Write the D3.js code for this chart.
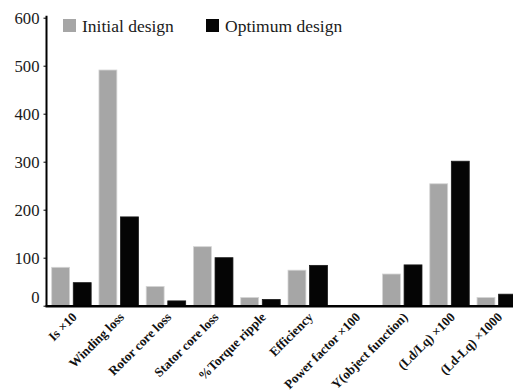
<!DOCTYPE html>
<html>
<head>
<meta charset="utf-8">
<script src="https://cdn.jsdelivr.net/npm/d3@7/dist/d3.min.js"></script>
<style>
  html, body { margin: 0; padding: 0; background: #fff; }
  svg { display: block; }
  svg text { font-family: "Liberation Serif", "Times New Roman", serif; }
</style>
</head>
<body>
<svg id="chart" width="513" height="391"></svg>
<script>
// Comparison of the initial and optimum designs across performance measures
const categories = [
  "Is \u00d710", "Winding loss", "Rotor core loss", "Stator core loss",
  "%Torque ripple", "Efficiency", "Power factor \u00d7100",
  "Y(object function)", "(Ld/Lq) \u00d7100", "(Ld-Lq) \u00d71000"
];
const seriesNames = ["Initial design", "Optimum design"];
const initialDesign = [80, 491, 40, 123, 17, 74, 0, 66, 254, 17];
const optimumDesign = [48, 185, 10, 100, 13, 84, 0, 85, 301, 24];
const yTicks = [0, 100, 200, 300, 400, 500, 600];
const colors = ["#a6a6a6", "#050505"];

const svg = d3.select("#chart");

const y = d3.scaleLinear().domain([0, 600]).range([305.7, 17.7]);
const x0 = d3.scaleBand().domain(categories)
  .range([47.8, 520.4]).paddingInner(0.165).paddingOuter(0.0825);
const x1 = d3.scaleBand().domain(seriesNames)
  .range([0, x0.bandwidth()]).paddingInner(0.17);

const rows = categories.map((c, i) => ({
  cat: c,
  vals: [
    { s: seriesNames[0], v: initialDesign[i] },
    { s: seriesNames[1], v: optimumDesign[i] }
  ]
}));

// bars
const groups = svg.append("g").selectAll("g").data(rows).join("g")
  .attr("transform", d => `translate(${x0(d.cat)},0)`);
groups.selectAll("rect").data(d => d.vals.filter(e => e.v > 0)).join("rect")
  .attr("x", d => x1(d.s))
  .attr("y", d => y(d.v))
  .attr("width", x1.bandwidth())
  .attr("height", d => y(0) - y(d.v))
  .attr("fill", d => d.s === seriesNames[0] ? colors[0] : colors[1])
  .attr("stroke", d => d.s === seriesNames[0] ? "#d4d4d4" : "#1a1a1a")
  .attr("stroke-width", 0.8);

// y axis
const yAxis = svg.append("g").attr("transform", "translate(46.5,0)")
  .call(d3.axisLeft(y).tickValues(yTicks).tickSize(3).tickPadding(4).tickFormat(d3.format("d")));
yAxis.attr("font-family", null);
yAxis.select(".domain").attr("stroke", "#000").attr("stroke-width", 2)
  .attr("d", `M0,${y(600) - 2}V${y(0)}`);
yAxis.selectAll(".tick line").attr("stroke", "#000").attr("stroke-width", 1);
yAxis.selectAll(".tick text")
  .attr("font-size", 16.7).attr("fill", "#1a1a1a")
  .attr("transform", d => d === 0 ? "translate(0,-9)" : null);

// x axis baseline
svg.append("line")
  .attr("x1", 45.5).attr("x2", 513)
  .attr("y1", y(0) + 0.5).attr("y2", y(0) + 0.5)
  .attr("stroke", "#000").attr("stroke-width", 2.4);

// category labels
svg.append("g").selectAll("text").data(categories).join("text")
  .attr("transform", d => `translate(${x0(d) + x0.bandwidth() / 2 + 3},${y(0) + 9}) rotate(-45)`)
  .attr("text-anchor", "end")
  .attr("dy", "0.35em")
  .attr("font-weight", "bold").attr("font-size", 13)
  .attr("fill", "#111")
  .text(d => d);

// legend
const legendX = [63, 206];
const legend = svg.append("g").selectAll("g").data(seriesNames).join("g")
  .attr("transform", (d, i) => `translate(${legendX[i]},19)`);
legend.append("rect").attr("width", 13).attr("height", 13)
  .attr("fill", (d, i) => colors[i]);
legend.append("text").attr("x", 19).attr("y", 13)
  .attr("font-size", 17.5).attr("fill", "#1a1a1a")
  .text(d => d);
</script>
</body>
</html>
